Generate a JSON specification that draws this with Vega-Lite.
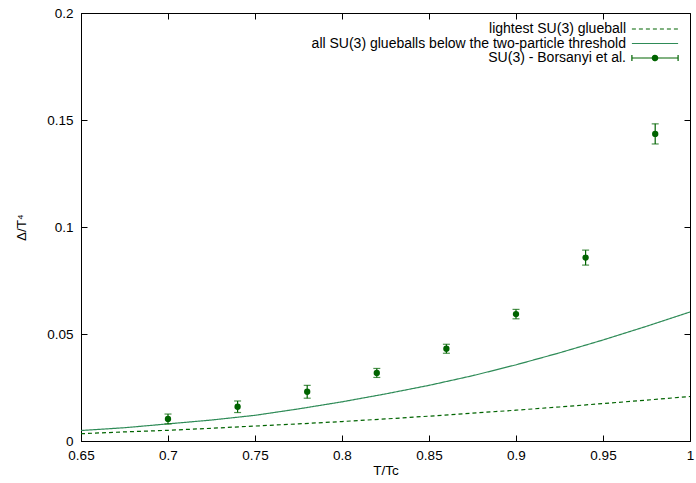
{
  "$schema": "https://vega.github.io/schema/vega-lite/v6.json",
  "width": 609,
  "height": 428,
  "autosize": {"type": "none"},
  "padding": {"left": 81, "top": 13, "right": 6, "bottom": 42},
  "background": "white",
  "config": {
    "view": {"stroke": "black", "strokeWidth": 1},
    "font": "Liberation Sans",
    "axis": {
      "domainColor": "black",
      "domainWidth": 1,
      "tickColor": "black",
      "tickSize": -6,
      "tickWidth": 1,
      "labelFont": "Liberation Sans",
      "labelFontSize": 13.5,
      "labelColor": "black",
      "titleFont": "Liberation Sans",
      "titleFontSize": 13.5,
      "titleFontWeight": "normal",
      "titleColor": "black",
      "grid": false
    }
  },
  "datasets": {
    "curves": [
      {"T": 0.65, "value": 0.0034, "series": "lightest SU(3) glueball"},
      {"T": 0.675, "value": 0.00425, "series": "lightest SU(3) glueball"},
      {"T": 0.70, "value": 0.0050, "series": "lightest SU(3) glueball"},
      {"T": 0.725, "value": 0.00595, "series": "lightest SU(3) glueball"},
      {"T": 0.75, "value": 0.0070, "series": "lightest SU(3) glueball"},
      {"T": 0.775, "value": 0.0080, "series": "lightest SU(3) glueball"},
      {"T": 0.80, "value": 0.0091, "series": "lightest SU(3) glueball"},
      {"T": 0.825, "value": 0.0103, "series": "lightest SU(3) glueball"},
      {"T": 0.85, "value": 0.0116, "series": "lightest SU(3) glueball"},
      {"T": 0.875, "value": 0.0130, "series": "lightest SU(3) glueball"},
      {"T": 0.90, "value": 0.0144, "series": "lightest SU(3) glueball"},
      {"T": 0.925, "value": 0.0159, "series": "lightest SU(3) glueball"},
      {"T": 0.95, "value": 0.0175, "series": "lightest SU(3) glueball"},
      {"T": 0.975, "value": 0.0191, "series": "lightest SU(3) glueball"},
      {"T": 1.0, "value": 0.0208, "series": "lightest SU(3) glueball"},
      {"T": 0.65, "value": 0.0049, "series": "all SU(3) glueballs below the two-particle threshold"},
      {"T": 0.675, "value": 0.0062, "series": "all SU(3) glueballs below the two-particle threshold"},
      {"T": 0.70, "value": 0.0080, "series": "all SU(3) glueballs below the two-particle threshold"},
      {"T": 0.725, "value": 0.0098, "series": "all SU(3) glueballs below the two-particle threshold"},
      {"T": 0.75, "value": 0.0120, "series": "all SU(3) glueballs below the two-particle threshold"},
      {"T": 0.775, "value": 0.0150, "series": "all SU(3) glueballs below the two-particle threshold"},
      {"T": 0.80, "value": 0.0183, "series": "all SU(3) glueballs below the two-particle threshold"},
      {"T": 0.825, "value": 0.0220, "series": "all SU(3) glueballs below the two-particle threshold"},
      {"T": 0.85, "value": 0.0260, "series": "all SU(3) glueballs below the two-particle threshold"},
      {"T": 0.875, "value": 0.0305, "series": "all SU(3) glueballs below the two-particle threshold"},
      {"T": 0.90, "value": 0.0356, "series": "all SU(3) glueballs below the two-particle threshold"},
      {"T": 0.925, "value": 0.0412, "series": "all SU(3) glueballs below the two-particle threshold"},
      {"T": 0.95, "value": 0.0472, "series": "all SU(3) glueballs below the two-particle threshold"},
      {"T": 0.975, "value": 0.0536, "series": "all SU(3) glueballs below the two-particle threshold"},
      {"T": 1.0, "value": 0.0603, "series": "all SU(3) glueballs below the two-particle threshold"}
    ],
    "lattice": [
      {"T": 0.70, "value": 0.0103, "err": 0.0023},
      {"T": 0.74, "value": 0.0160, "err": 0.0027},
      {"T": 0.78, "value": 0.0230, "err": 0.0030},
      {"T": 0.82, "value": 0.0318, "err": 0.0021},
      {"T": 0.86, "value": 0.0431, "err": 0.0021},
      {"T": 0.90, "value": 0.0593, "err": 0.0022},
      {"T": 0.94, "value": 0.0857, "err": 0.0035},
      {"T": 0.98, "value": 0.1435, "err": 0.0047}
    ]
  },
  "resolve": {"axis": {"x": "independent", "y": "independent"}},
  "layer": [
    {
      "data": {"name": "curves"},
      "mark": {"type": "line", "strokeWidth": 1.2, "clip": true},
      "encoding": {
        "x": {
          "field": "T", "type": "quantitative",
          "scale": {"domain": [0.65, 1.0], "nice": false, "zero": false},
          "axis": {"title": "T/Tc", "values": [0.65, 0.7, 0.75, 0.8, 0.85, 0.9, 0.95, 1.0], "format": "~g", "labelPadding": 13, "titlePadding": 2, "labelFlush": false, "labelOverlap": false}
        },
        "y": {
          "field": "value", "type": "quantitative",
          "scale": {"domain": [0, 0.2], "nice": false},
          "axis": {"title": "Δ/T⁴", "values": [0, 0.05, 0.1, 0.15, 0.2], "format": "~g", "labelPadding": 14, "titlePadding": 18}
        },
        "color": {
          "field": "series", "type": "nominal",
          "scale": {
            "domain": ["lightest SU(3) glueball", "all SU(3) glueballs below the two-particle threshold", "SU(3) - Borsanyi et al."],
            "range": ["#006400", "#2e8b57", "#006400"]
          },
          "legend": {
            "orient": "none",
            "legendX": 551,
            "legendY": 9,
            "title": null,
            "symbolType": "stroke",
            "symbolSize": 100,
            "symbolStrokeWidth": 1.2,
            "labelFont": "Liberation Sans",
            "labelFontSize": 14,
            "labelColor": "black",
            "labelLimit": 500,
            "rowPadding": 0.5,
            "encode": {
              "symbols": {"update": {
                "x": {"value": 23},
                "shape": {"signal": "datum.value === 'SU(3) - Borsanyi et al.' ? 'M-4.62,-0.6V0.6M-4.62,0H4.62M4.62,-0.6V0.6M-0.54,0A0.54,0.54,0,1,1,0.54,0A0.54,0.54,0,1,1,-0.54,0Z' : 'M-4.62,0H4.62'"},
                "fill": {"signal": "datum.value === 'SU(3) - Borsanyi et al.' ? '#006400' : 'transparent'"}
              }},
              "labels": {"update": {"align": {"value": "right"}, "x": {"value": -6}}}
            }
          }
        },
        "strokeDash": {
          "field": "series", "type": "nominal",
          "scale": {
            "domain": ["lightest SU(3) glueball", "all SU(3) glueballs below the two-particle threshold", "SU(3) - Borsanyi et al."],
            "range": [[4, 3], [1, 0], [1, 0]]
          }
        }
      }
    },
    {
      "data": {"name": "lattice"},
      "mark": {"type": "errorbar", "color": "#006400", "thickness": 1.2, "ticks": {"size": 7, "color": "#006400"}},
      "encoding": {
        "x": {"field": "T", "type": "quantitative", "axis": null},
        "y": {"field": "value", "type": "quantitative", "axis": null},
        "yError": {"field": "err"}
      }
    },
    {
      "data": {"name": "lattice"},
      "mark": {"type": "point", "filled": true, "shape": "circle", "size": 40, "color": "#006400", "opacity": 1},
      "encoding": {
        "x": {"field": "T", "type": "quantitative", "axis": {"orient": "top", "labels": false, "title": null, "values": [0.65, 0.7, 0.75, 0.8, 0.85, 0.9, 0.95, 1.0], "domain": false}},
        "y": {"field": "value", "type": "quantitative", "axis": {"orient": "right", "labels": false, "title": null, "values": [0, 0.05, 0.1, 0.15, 0.2], "domain": false}}
      }
    }
  ]
}
